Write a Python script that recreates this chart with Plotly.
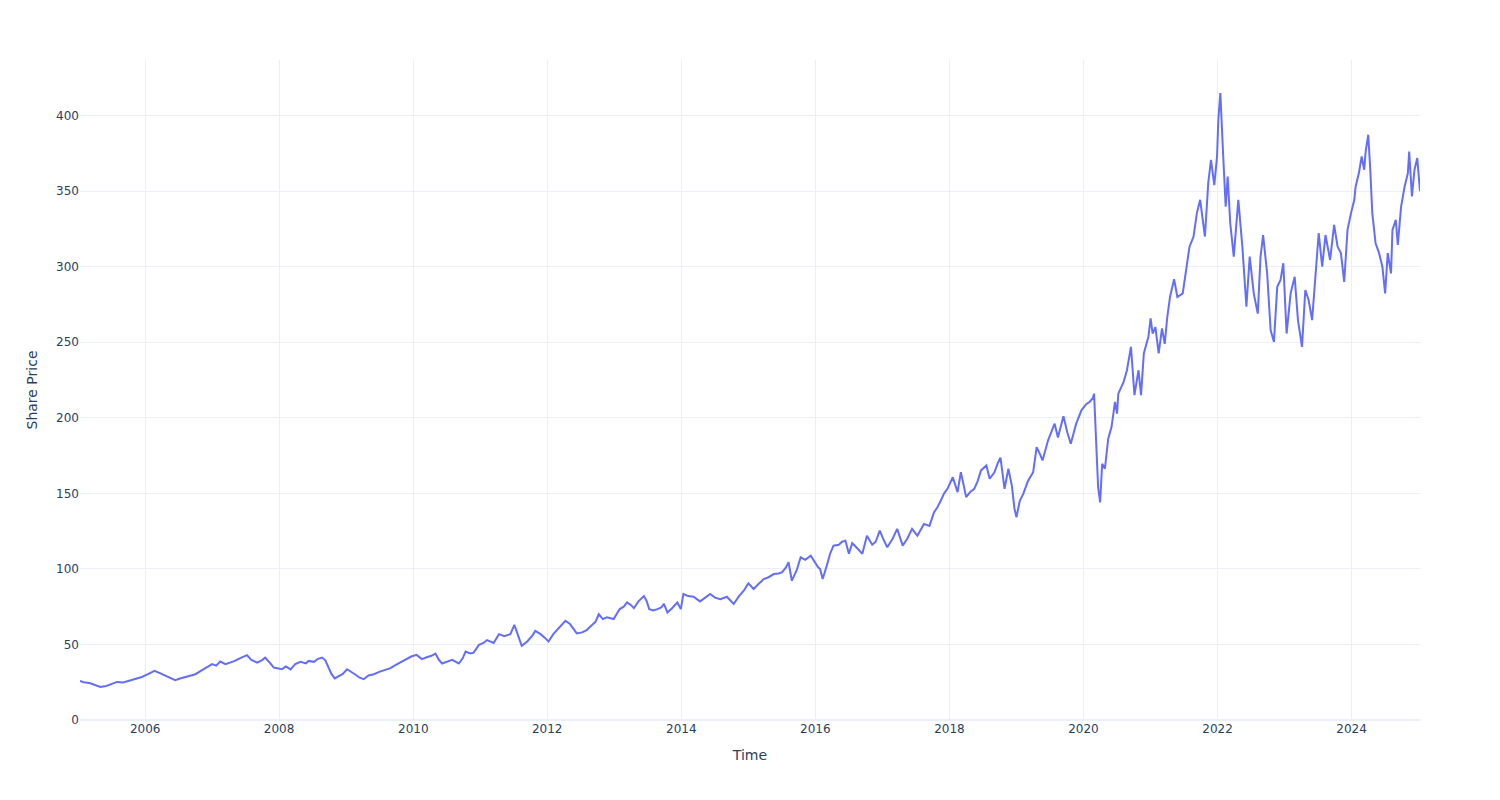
import pandas as pd
import plotly.graph_objects as go

# Time in decimal years, share price values
time_decimal = [
    2005.027, 2005.08, 2005.17, 2005.25, 2005.33, 2005.42, 2005.50, 2005.58, 2005.67, 2005.75, 2005.85, 2005.95,
    2006.05, 2006.14, 2006.22, 2006.30, 2006.38, 2006.45, 2006.52, 2006.60, 2006.68, 2006.75, 2006.85, 2006.93,
    2007.00, 2007.06, 2007.12, 2007.20, 2007.27, 2007.34, 2007.42, 2007.52, 2007.58, 2007.67, 2007.74, 2007.79, 2007.86, 2007.92,
    2008.04, 2008.10, 2008.17, 2008.24, 2008.32, 2008.40, 2008.44, 2008.52, 2008.58, 2008.64, 2008.69, 2008.73, 2008.78, 2008.83, 2008.89, 2008.95,
    2009.01, 2009.07, 2009.13, 2009.20, 2009.26, 2009.33, 2009.41, 2009.50, 2009.58, 2009.66, 2009.74, 2009.82, 2009.90, 2009.97,
    2010.05, 2010.13, 2010.20, 2010.27, 2010.33, 2010.38, 2010.43, 2010.50, 2010.58, 2010.68, 2010.74, 2010.78, 2010.85, 2010.90, 2010.98,
    2011.05, 2011.10, 2011.20, 2011.28, 2011.36, 2011.45, 2011.51, 2011.56, 2011.62, 2011.70, 2011.78, 2011.82, 2011.90, 2011.96,
    2012.02, 2012.09, 2012.18, 2012.27, 2012.34, 2012.40, 2012.44, 2012.52, 2012.59, 2012.66, 2012.72, 2012.77, 2012.83, 2012.89, 2012.99,
    2013.08, 2013.14, 2013.19, 2013.25, 2013.29, 2013.36, 2013.44, 2013.48, 2013.52, 2013.58, 2013.64, 2013.70, 2013.74, 2013.79, 2013.86, 2013.94, 2013.99,
    2014.03, 2014.10, 2014.18, 2014.28, 2014.35, 2014.43, 2014.50, 2014.58, 2014.68, 2014.78, 2014.86, 2014.93,
    2015.00, 2015.08, 2015.15, 2015.23, 2015.30, 2015.38, 2015.45, 2015.50, 2015.56, 2015.60, 2015.65, 2015.72, 2015.78, 2015.85, 2015.93, 2015.98,
    2016.04, 2016.07, 2016.11, 2016.17, 2016.22, 2016.27, 2016.35, 2016.40, 2016.45, 2016.50, 2016.55, 2016.62, 2016.70, 2016.77, 2016.85, 2016.90, 2016.96,
    2017.02, 2017.07, 2017.15, 2017.22, 2017.30, 2017.37, 2017.44, 2017.52, 2017.62, 2017.70, 2017.77, 2017.82, 2017.87, 2017.92, 2017.97,
    2018.05, 2018.12, 2018.17, 2018.25, 2018.31, 2018.37, 2018.42, 2018.47, 2018.55, 2018.60, 2018.67, 2018.72, 2018.76, 2018.82, 2018.88, 2018.93, 2018.97,
    2019.00, 2019.05, 2019.10, 2019.17, 2019.25, 2019.30, 2019.35, 2019.39, 2019.47, 2019.53, 2019.57, 2019.62, 2019.70, 2019.76, 2019.81, 2019.89, 2019.97,
    2020.04, 2020.09, 2020.14, 2020.16, 2020.19, 2020.22, 2020.25, 2020.28, 2020.32, 2020.37, 2020.42, 2020.47, 2020.50, 2020.52, 2020.60, 2020.65, 2020.71, 2020.76, 2020.82, 2020.86, 2020.90, 2020.97,
    2021.00, 2021.03, 2021.07, 2021.12, 2021.17, 2021.21, 2021.25, 2021.29, 2021.35, 2021.40, 2021.48, 2021.53, 2021.58, 2021.64, 2021.69, 2021.74, 2021.81, 2021.86, 2021.90, 2021.95, 2021.99,
    2022.01, 2022.04, 2022.08, 2022.12, 2022.15, 2022.19, 2022.24, 2022.31, 2022.37, 2022.43, 2022.48, 2022.54, 2022.60, 2022.64, 2022.68, 2022.74, 2022.79, 2022.84, 2022.89, 2022.94, 2022.98,
    2023.03, 2023.09, 2023.15, 2023.20, 2023.26, 2023.31, 2023.36, 2023.41, 2023.45, 2023.48, 2023.51, 2023.56, 2023.61, 2023.68, 2023.74, 2023.79, 2023.84, 2023.89, 2023.94, 2023.99,
    2024.04, 2024.06, 2024.11, 2024.15, 2024.19, 2024.21, 2024.25, 2024.28, 2024.31, 2024.36, 2024.41, 2024.46, 2024.50, 2024.54, 2024.59, 2024.61, 2024.66, 2024.69, 2024.74, 2024.79, 2024.84, 2024.86, 2024.90, 2024.94, 2024.98, 2025.02,
]

share_price = [
    25.9, 25.0, 24.5, 23.0, 21.9, 22.5, 24.0, 25.2, 24.8, 25.8, 27.0, 28.5,
    30.5, 32.5, 31.0, 29.5, 28.0, 26.3, 27.5, 28.5, 29.0, 30.3, 33.0, 35.0,
    37.0, 36.0, 38.7, 37.0, 38.0, 39.1, 41.0, 42.9, 40.0, 38.0, 39.5, 41.3, 38.0, 34.7,
    33.6, 35.5, 33.5, 37.0, 38.5, 37.5, 39.1, 38.5, 40.5, 41.3, 39.5, 35.0, 30.5, 27.5, 29.0, 30.5,
    33.6, 32.0, 30.3, 28.0, 27.0, 29.5, 30.3, 32.0, 33.0, 34.3, 36.5, 38.5, 40.9, 42.0,
    43.1, 40.3, 41.5, 42.5, 44.0, 40.0, 37.4, 38.5, 39.8, 37.4, 41.0, 45.3, 44.0, 44.6, 49.7,
    51.0, 52.9, 51.0, 56.8, 55.5, 56.8, 63.0, 56.0, 49.1, 52.0, 56.0, 59.0, 56.8, 54.5,
    52.0, 56.8, 61.0, 65.7, 63.5, 60.0, 57.3, 58.0, 59.5, 62.5, 65.0, 70.0, 66.8, 68.0, 66.8,
    73.4, 75.0, 77.8, 76.0, 74.0, 78.5, 82.0, 79.0, 73.4, 72.5, 73.4, 74.5, 76.8, 71.2, 74.0, 77.8, 73.4,
    83.4, 82.0, 81.6, 78.5, 81.0, 83.4, 81.0, 80.0, 81.6, 76.8, 82.0, 85.6,
    90.4, 86.7, 90.0, 93.3, 94.5, 96.6, 97.0, 97.7, 101.0, 104.4, 92.2, 99.0, 107.7, 106.0, 108.8, 105.0,
    101.0, 100.0, 93.3, 102.0, 109.9, 115.4, 116.0, 118.0, 118.7, 110.0, 117.0, 114.0, 110.0, 122.0, 116.0, 118.0, 125.4,
    119.0, 114.3, 120.0, 126.5, 115.4, 120.0, 126.5, 122.0, 129.8, 128.5, 137.5, 141.0, 145.3, 150.0, 153.0,
    160.7, 150.8, 164.0, 147.5, 151.0, 153.0, 158.0, 165.2, 168.5, 159.7, 164.0, 170.0, 173.6, 153.0, 166.3, 155.0, 140.0,
    134.2, 145.0, 149.7, 158.0, 164.0, 180.6, 176.0, 171.8, 185.0, 192.0, 196.1, 187.0, 201.0, 190.0, 182.9, 196.0, 205.0,
    209.0, 210.5, 213.0, 216.0, 185.0, 154.0, 144.0, 169.6, 166.3, 186.2, 193.9, 210.5, 202.8, 216.0, 223.8, 231.5, 247.0, 215.0, 231.5, 215.0, 242.6, 253.6,
    265.8, 255.8, 260.0, 242.6, 259.2, 249.0, 266.9, 280.2, 291.7, 280.0, 282.4, 300.0, 313.3, 320.0, 335.5, 344.3, 320.0, 355.3, 370.8, 354.0, 373.0,
    397.3, 415.0, 377.4, 339.8, 359.7, 328.8, 306.7, 344.3, 313.3, 273.5, 306.7, 282.4, 269.0, 306.7, 321.0, 295.6, 258.0, 250.3, 286.8, 291.2, 302.3,
    255.8, 282.4, 293.4, 264.7, 247.0, 284.6, 278.0, 264.7, 289.0, 309.0, 322.2, 300.0, 321.0, 304.5, 327.7, 313.3, 309.0, 290.0, 324.4, 335.5,
    344.3, 353.0, 362.0, 373.0, 364.2, 376.3, 387.4, 364.2, 335.5, 315.5, 309.0, 300.0, 282.4, 309.0, 295.6, 324.4, 331.0, 314.4, 339.8, 353.0, 362.0, 376.3, 346.5, 364.2, 372.0, 350.0,
]


def to_date(t):
    year = int(t)
    start = pd.Timestamp(year=year, month=1, day=1)
    return start + pd.Timedelta(days=round((t - year) * 365.25))


dates = [to_date(t) for t in time_decimal]

fig = go.Figure(
    go.Scatter(x=dates, y=share_price, mode="lines", line=dict(color="#636efa", width=2))
)
fig.update_layout(
    template="plotly_white",
    width=1500,
    height=800,
    font=dict(family="DejaVu Sans"),
    margin=dict(l=80, r=80, t=60, b=80),
    xaxis=dict(title=dict(text="Time")),
    yaxis=dict(title=dict(text="Share Price"), rangemode="tozero"),
    showlegend=False,
)
fig.write_html("out.html")
